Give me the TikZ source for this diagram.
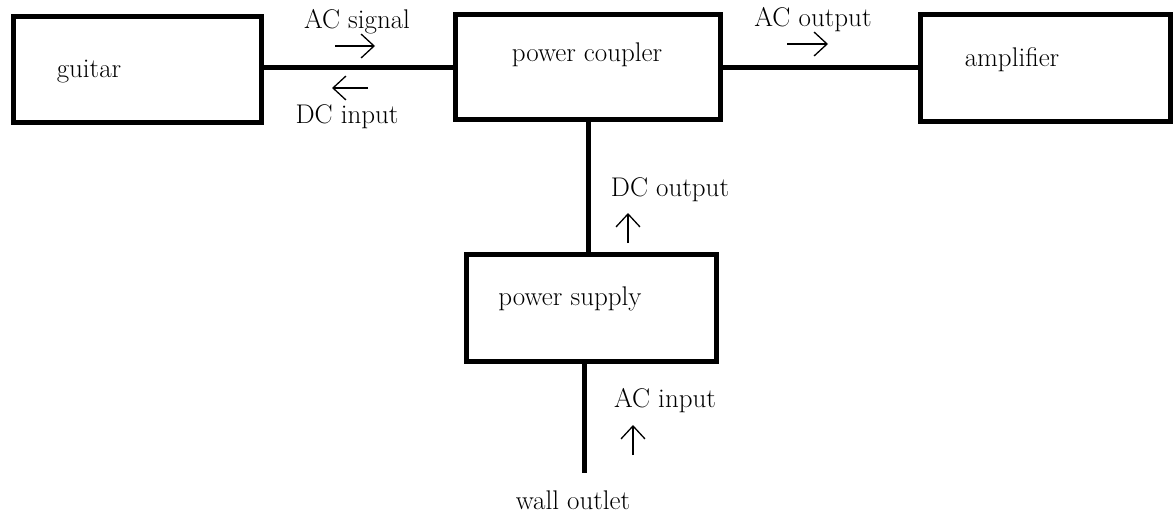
\documentclass[tikz,border=0pt]{standalone}
\usepackage{tikz}
\usetikzlibrary{arrows.meta}

\begin{document}
\begin{tikzpicture}[x=1pt, y=-1pt, >={Straight Barb[length=13pt,width=24pt]},
    blk/.style={draw, line width=5pt, inner sep=0pt},
    wire/.style={line width=5pt},
    flow/.style={->, line width=1.3pt},
    lbl/.style={anchor=base, inner sep=0pt, font=\fontsize{27}{32}\selectfont}]
    \useasboundingbox (0,0) rectangle (1174,514);
    % blocks
    \node[blk, minimum width=248pt, minimum height=106pt] (guitar) at (137,69) {};
    \node[blk, minimum width=265pt, minimum height=105pt] (coupler) at (588,67) {};
    \node[blk, minimum width=250pt, minimum height=107pt] (amp) at (1045,68) {};
    \node[blk, minimum width=250pt, minimum height=107pt] (supply) at (591,308) {};
    \node[lbl] (tguitar) at (89,77) {guitar};
    \node[lbl] (tcoupler) at (587,61) {power coupler};
    \node[lbl] (tamp) at (1012,66) {amplifier};
    \node[lbl] (tsupply) at (570,305) {power supply};
    % wires
    \coordinate (outlet) at (584,473);
    \draw[wire] (guitar.east |- coupler.west) -- (coupler.west);
    \draw[wire] (coupler.east) -- (coupler.east -| amp.west);
    \draw[wire] (coupler.south) -- (coupler.south |- supply.north);
    \draw[wire] (supply.south -| outlet) -- (outlet);
    % signal labels
    \node[lbl] (acsig) at (357,28) {AC signal};
    \node[lbl] (dcin) at (347,123) {DC input};
    \node[lbl] (acout) at (813,26) {AC output};
    \node[lbl] (dcout) at (670,196) {DC output};
    \node[lbl] (acin) at (665,407) {AC input};
    \node[lbl] (wall) at (573,509) {wall outlet};
    \draw[flow] (335,46) -- (375,46);
    \draw[flow] (368,88) -- (332,88);
    \draw[flow] (787,44) -- (828,44);
    \draw[flow] (628,243) -- (628,213);
    \draw[flow] (633,455) -- (633,425);
\end{tikzpicture}
\end{document}
